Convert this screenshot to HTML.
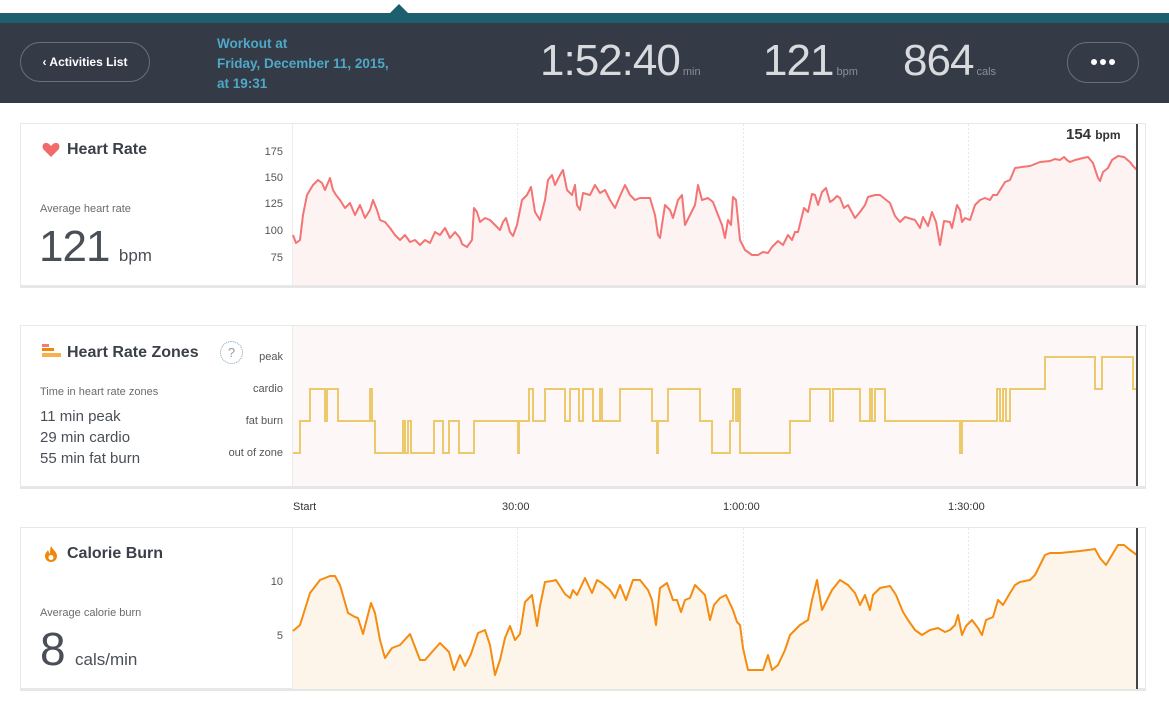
<!DOCTYPE html>
<html><head><meta charset="utf-8"><style>
*{margin:0;padding:0;box-sizing:border-box}
body{width:1169px;height:705px;background:#fff;font-family:"Liberation Sans",sans-serif;position:relative;overflow:hidden}
.a{position:absolute}
.card{position:absolute;left:20px;width:1126px;background:#fff;border:1px solid #e8e8e8;box-shadow:0 2px 0 #e6e6e6}
.ttl{font-weight:bold;font-size:16px;color:#3a3f48}
.lab{font-size:11px;color:#555;text-align:right;width:80px}
.sm{font-size:11px;color:#6b6b6b}
.big{color:#d8dadd;font-size:44px;letter-spacing:-1px;line-height:50px}
.big span{font-size:11px;color:#8a8f97;letter-spacing:0}
</style></head><body>
<div class="a" style="left:0;top:13px;width:1169px;height:10px;background:#1d5e6f"></div>
<div class="a" style="left:390px;top:4px;width:0;height:0;border-left:9px solid transparent;border-right:9px solid transparent;border-bottom:9px solid #1d5e6f"></div>
<div class="a" style="left:0;top:23px;width:1169px;height:80px;background:#343b46"></div>
<div class="a" style="left:20px;top:42px;width:130px;height:40px;border:1px solid #6a707a;border-radius:20px;color:#fff;font-size:12px;font-weight:bold;line-height:38px;text-align:center">‹ Activities List</div>
<div class="a" style="left:217px;top:34px;color:#4fa8c8;font-weight:bold;font-size:13.5px;line-height:20px">Workout at<br>Friday, December 11, 2015,<br>at 19:31</div>
<div class="a big" style="left:540px;top:36px">1:52:40<span> min</span></div>
<div class="a big" style="left:763px;top:36px">121<span> bpm</span></div>
<div class="a big" style="left:903px;top:36px">864<span> cals</span></div>
<div class="a" style="left:1067px;top:42px;width:72px;height:41px;border:1px solid #6a707a;border-radius:20px"></div>
<div class="a" style="left:1091px;top:59px;width:6px;height:6px;border-radius:50%;background:#fff"></div>
<div class="a" style="left:1100px;top:59px;width:6px;height:6px;border-radius:50%;background:#fff"></div>
<div class="a" style="left:1109px;top:59px;width:6px;height:6px;border-radius:50%;background:#fff"></div>

<div class="card" style="top:123px;height:163px"></div>
<div class="card" style="top:325px;height:162px"></div>
<div class="card" style="top:527px;height:162px"></div>

<!-- card 1 -->
<svg class="a" style="left:42px;top:142px" width="18" height="16"><path d="M9,15 L2,8 C-1,5 1,0 5,1 C7,1.5 8,3 9,4 C10,3 11,1.5 13,1 C17,0 19,5 16,8 Z" fill="#f26b6b"/></svg>
<div class="a ttl" style="left:67px;top:141px">Heart Rate</div>
<div class="a sm" style="left:40px;top:203px">Average heart rate</div>
<div class="a" style="left:39px;top:222px;font-size:44px;color:#4a4f57;letter-spacing:-1px">121<span style="font-size:17px;letter-spacing:0"> &nbsp;bpm</span></div>
<div class="a lab" style="left:203px;top:146px">175</div>
<div class="a lab" style="left:203px;top:172px">150</div>
<div class="a lab" style="left:203px;top:198px">125</div>
<div class="a lab" style="left:203px;top:225px">100</div>
<div class="a lab" style="left:203px;top:252px">75</div>
<div class="a" style="left:1066px;top:126px;font-size:15px;font-weight:bold;color:#333">154 <span style="font-size:12px">bpm</span></div>

<!-- card 2 -->
<div class="a" style="left:42px;top:344px;width:7px;height:3px;background:#f37a7a"></div>
<div class="a" style="left:42px;top:348px;width:12px;height:3px;background:#f0870a"></div>
<div class="a" style="left:42px;top:353px;width:19px;height:4px;background:#f7b04c"></div>
<div class="a ttl" style="left:67px;top:344px">Heart Rate Zones</div>
<div class="a" style="left:220px;top:341px;width:23px;height:23px;border:1px dotted #7aa0bf;border-radius:50%;color:#999;font-size:13px;text-align:center;line-height:21px">?</div>
<div class="a sm" style="left:40px;top:386px">Time in heart rate zones</div>
<div class="a" style="left:40px;top:406px;font-size:15px;color:#4a4f57;line-height:21px">11 min peak<br>29 min cardio<br>55 min fat burn</div>
<div class="a lab" style="left:203px;top:351px">peak</div>
<div class="a lab" style="left:203px;top:383px">cardio</div>
<div class="a lab" style="left:203px;top:415px">fat burn</div>
<div class="a lab" style="left:203px;top:447px">out of zone</div>
<div class="a" style="left:1090px;top:328px;font-size:12px;font-weight:bold;color:#333">cardio</div>

<div class="a" style="left:293px;top:501px;font-size:11px;color:#333">Start</div>
<div class="a" style="left:502px;top:501px;font-size:11px;color:#333">30:00</div>
<div class="a" style="left:723px;top:501px;font-size:11px;color:#333">1:00:00</div>
<div class="a" style="left:948px;top:501px;font-size:11px;color:#333">1:30:00</div>

<!-- card 3 -->
<svg class="a" style="left:44px;top:545px" width="14" height="18"><path d="M7,1 C9,5 13,7 13,11 C13,15 10,17 7,17 C4,17 1,15 1,11 C1,8 3,7 4,5 C5,7 5,8 6,9 C6,6 6,4 7,1 Z" fill="#f0870a"/><circle cx="7" cy="12.5" r="2.5" fill="#fff"/></svg>
<div class="a ttl" style="left:67px;top:545px">Calorie Burn</div>
<div class="a sm" style="left:40px;top:607px">Average calorie burn</div>
<div class="a" style="left:40px;top:622px;font-size:46px;color:#4a4f57">8<span style="font-size:17px"> &nbsp;cals/min</span></div>
<div class="a lab" style="left:203px;top:576px">10</div>
<div class="a lab" style="left:203px;top:630px">5</div>

<svg class="a" style="left:0;top:0" width="1169" height="705">
<g stroke="#ececec" stroke-width="1">
<line x1="292.5" y1="124" x2="292.5" y2="285"/><line x1="292.5" y1="326" x2="292.5" y2="486"/><line x1="292.5" y1="528" x2="292.5" y2="689"/>
</g>
<g stroke="#e8e8e8" stroke-dasharray="2,2">
<line x1="517.5" y1="124" x2="517.5" y2="285"/><line x1="743.5" y1="124" x2="743.5" y2="285"/><line x1="968.5" y1="124" x2="968.5" y2="285"/>
<line x1="517.5" y1="326" x2="517.5" y2="486"/><line x1="743.5" y1="326" x2="743.5" y2="486"/><line x1="968.5" y1="326" x2="968.5" y2="486"/>
<line x1="517.5" y1="528" x2="517.5" y2="689"/><line x1="743.5" y1="528" x2="743.5" y2="689"/><line x1="968.5" y1="528" x2="968.5" y2="689"/>
</g>
<polygon fill="#fdf3f3" points="293,285 293,235 296,243 300,240 303,215 307,195 310,190 313,185 318,180 322,183 325,190 330,178 333,190 336,195 340,200 345,208 350,203 355,215 360,205 365,218 370,210 373,200 377,210 380,220 385,222 390,228 395,235 400,240 405,235 410,242 415,240 420,245 425,240 430,243 435,232 440,235 445,228 450,238 455,232 460,238 462,244 467,247 472,240 474,208 477,212 480,222 485,218 490,220 495,225 500,230 503,222 506,218 510,232 513,236 517,225 522,200 527,195 531,187 535,212 540,220 545,200 548,180 552,175 555,185 560,175 563,170 567,190 572,195 575,185 577,205 580,210 583,193 590,195 595,185 600,193 605,190 610,200 615,208 620,196 625,185 630,195 635,200 640,198 650,198 655,215 658,235 660,238 665,205 670,210 673,218 678,200 682,195 685,225 690,215 695,205 698,185 702,200 708,198 713,202 718,215 722,225 725,238 728,220 731,225 733,197 736,200 740,240 745,250 752,255 758,255 763,252 768,253 772,247 778,241 783,245 788,235 792,240 795,232 798,232 801,220 804,208 808,212 812,194 815,195 818,205 822,192 826,188 830,202 833,200 837,196 840,198 844,208 848,205 855,218 860,212 865,205 868,197 875,195 880,195 890,203 895,216 900,222 905,217 915,220 920,228 923,217 928,226 932,212 936,222 940,245 944,221 950,222 952,228 957,205 960,210 962,222 965,218 970,220 975,205 980,200 985,198 990,200 993,195 997,195 1005,182 1010,180 1015,168 1022,167 1030,166 1040,162 1050,161 1055,159 1060,160 1064,157 1067,160 1070,162 1075,160 1083,158 1088,157 1093,163 1098,178 1100,181 1103,172 1108,168 1112,160 1118,156 1124,157 1130,162 1133,166 1137,170 1137,285"/>
<polyline fill="none" stroke="#f47474" stroke-width="2" stroke-linejoin="round" points="293,235 296,243 300,240 303,215 307,195 310,190 313,185 318,180 322,183 325,190 330,178 333,190 336,195 340,200 345,208 350,203 355,215 360,205 365,218 370,210 373,200 377,210 380,220 385,222 390,228 395,235 400,240 405,235 410,242 415,240 420,245 425,240 430,243 435,232 440,235 445,228 450,238 455,232 460,238 462,244 467,247 472,240 474,208 477,212 480,222 485,218 490,220 495,225 500,230 503,222 506,218 510,232 513,236 517,225 522,200 527,195 531,187 535,212 540,220 545,200 548,180 552,175 555,185 560,175 563,170 567,190 572,195 575,185 577,205 580,210 583,193 590,195 595,185 600,193 605,190 610,200 615,208 620,196 625,185 630,195 635,200 640,198 650,198 655,215 658,235 660,238 665,205 670,210 673,218 678,200 682,195 685,225 690,215 695,205 698,185 702,200 708,198 713,202 718,215 722,225 725,238 728,220 731,225 733,197 736,200 740,240 745,250 752,255 758,255 763,252 768,253 772,247 778,241 783,245 788,235 792,240 795,232 798,232 801,220 804,208 808,212 812,194 815,195 818,205 822,192 826,188 830,202 833,200 837,196 840,198 844,208 848,205 855,218 860,212 865,205 868,197 875,195 880,195 890,203 895,216 900,222 905,217 915,220 920,228 923,217 928,226 932,212 936,222 940,245 944,221 950,222 952,228 957,205 960,210 962,222 965,218 970,220 975,205 980,200 985,198 990,200 993,195 997,195 1005,182 1010,180 1015,168 1022,167 1030,166 1040,162 1050,161 1055,159 1060,160 1064,157 1067,160 1070,162 1075,160 1083,158 1088,157 1093,163 1098,178 1100,181 1103,172 1108,168 1112,160 1118,156 1124,157 1130,162 1133,166 1137,170"/>
<line x1="1137" y1="124" x2="1137" y2="285" stroke="#444" stroke-width="2"/>

<rect x="293" y="326" width="844" height="160" fill="#fdf8f7"/>
<polyline fill="none" stroke="#ecc96a" stroke-width="2" points="293,453 300,453 300,421 310,421 310,389 325,389 325,421 327,421 327,389 338,389 338,421 370,421 370,389 372,389 372,421 375,421 375,453 403,453 403,421 405,421 405,453 408,453 408,421 411,421 411,453 434,453 434,421 443,421 443,453 449,453 449,421 459,421 459,453 474,453 474,421 518,421 518,453 519,453 519,421 529,421 529,389 533,389 533,421 545,421 545,389 565,389 565,421 570,421 570,389 579,389 579,421 583,421 583,389 593,389 593,421 600,421 600,389 602,389 602,421 620,421 620,389 652,389 652,421 657,421 657,453 658,453 658,421 668,421 668,389 700,389 700,421 712,421 712,453 730,453 730,421 733,421 733,389 736,389 736,421 738,421 738,389 740,389 740,453 790,453 790,421 810,421 810,389 830,389 830,421 833,421 833,389 860,389 860,421 870,421 870,389 872,389 872,421 875,421 875,389 885,389 885,421 960,421 960,453 962,453 962,421 997,421 997,389 1000,389 1000,421 1003,421 1003,389 1006,389 1006,421 1010,421 1010,389 1045,389 1045,357 1095,357 1095,389 1102,389 1102,357 1133,357 1133,389 1137,389"/>
<line x1="1137" y1="326" x2="1137" y2="486" stroke="#444" stroke-width="2"/>

<polygon fill="#fdf5ea" points="293,689 293,631 300,625 310,593 320,580 330,576 335,576 340,585 348,613 355,617 358,618 363,634 371,603 375,613 380,640 385,658 392,648 400,645 410,634 420,660 425,660 432,652 440,643 449,652 454,670 460,655 465,666 471,654 478,633 485,630 490,645 495,675 500,660 505,638 510,626 515,640 520,634 525,602 532,595 537,626 540,606 545,582 552,581 556,580 565,594 570,598 573,590 577,595 585,578 592,593 597,580 602,583 610,590 615,598 620,585 626,600 633,580 640,580 648,590 652,600 656,625 660,588 667,583 673,600 677,600 681,612 685,600 690,598 695,585 700,590 705,595 710,620 714,605 720,598 726,595 733,610 737,622 740,625 743,648 748,670 763,670 768,655 772,670 778,665 785,650 790,635 800,625 808,620 812,600 817,580 822,610 827,600 832,590 840,580 848,585 855,593 860,605 865,595 870,610 873,595 880,588 890,586 896,595 903,612 908,620 915,630 922,635 930,630 938,628 945,632 950,630 955,625 958,615 962,635 966,626 972,620 978,628 982,635 986,620 993,617 998,600 1003,605 1010,593 1015,585 1020,582 1030,580 1035,575 1040,565 1045,555 1050,553 1060,553 1070,552 1080,551 1088,550 1095,549 1100,558 1106,565 1112,555 1118,545 1124,545 1130,550 1137,555 1137,689"/>
<polyline fill="none" stroke="#f68c0f" stroke-width="2" stroke-linejoin="round" points="293,631 300,625 310,593 320,580 330,576 335,576 340,585 348,613 355,617 358,618 363,634 371,603 375,613 380,640 385,658 392,648 400,645 410,634 420,660 425,660 432,652 440,643 449,652 454,670 460,655 465,666 471,654 478,633 485,630 490,645 495,675 500,660 505,638 510,626 515,640 520,634 525,602 532,595 537,626 540,606 545,582 552,581 556,580 565,594 570,598 573,590 577,595 585,578 592,593 597,580 602,583 610,590 615,598 620,585 626,600 633,580 640,580 648,590 652,600 656,625 660,588 667,583 673,600 677,600 681,612 685,600 690,598 695,585 700,590 705,595 710,620 714,605 720,598 726,595 733,610 737,622 740,625 743,648 748,670 763,670 768,655 772,670 778,665 785,650 790,635 800,625 808,620 812,600 817,580 822,610 827,600 832,590 840,580 848,585 855,593 860,605 865,595 870,610 873,595 880,588 890,586 896,595 903,612 908,620 915,630 922,635 930,630 938,628 945,632 950,630 955,625 958,615 962,635 966,626 972,620 978,628 982,635 986,620 993,617 998,600 1003,605 1010,593 1015,585 1020,582 1030,580 1035,575 1040,565 1045,555 1050,553 1060,553 1070,552 1080,551 1088,550 1095,549 1100,558 1106,565 1112,555 1118,545 1124,545 1130,550 1137,555"/>
<line x1="1137" y1="528" x2="1137" y2="689" stroke="#444" stroke-width="2"/>
</svg>
</body></html>
